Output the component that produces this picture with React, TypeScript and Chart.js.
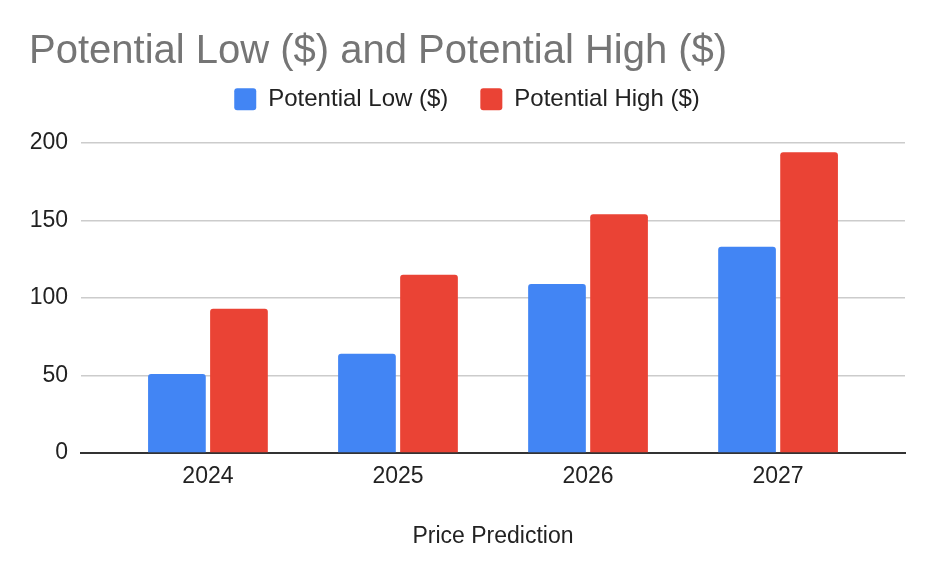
import { useEffect, useRef } from 'react';
import { Chart, registerables } from 'chart.js';

Chart.register(...registerables);

const years = ['2024', '2025', '2026', '2027'];
const potentialLow = [51, 64, 109, 133];
const potentialHigh = [93, 115, 154, 194];
const yTicks = [0, 50, 100, 150, 200];

const FONT = "'Liberation Sans', Arial, sans-serif";

// pushes the plot area down a bit below the legend
const legendGap = {
  id: 'legendGap',
  beforeInit(chart: any) {
    const fit = chart.legend.fit;
    chart.legend.fit = function () {
      fit.bind(chart.legend)();
      this.height += 21.7;
    };
  },
};

export default function App() {
  const canvasRef = useRef<HTMLCanvasElement>(null);
  const chartRef = useRef<Chart | null>(null);

  useEffect(() => {
    if (!canvasRef.current) return;
    if (chartRef.current) chartRef.current.destroy();

    const ctx = canvasRef.current.getContext('2d');
    if (!ctx) return;

    chartRef.current = new Chart(ctx, {
      type: 'bar',
      data: {
        datasets: [
          {
            label: 'Potential Low ($)',
            data: potentialLow.map((y, i) => ({ x: i, y })),
            backgroundColor: '#4285F4',
            borderRadius: 3,
            categoryPercentage: 0.653,
            barPercentage: 0.93,
          },
          {
            label: 'Potential High ($)',
            data: potentialHigh.map((y, i) => ({ x: i, y })),
            backgroundColor: '#EA4335',
            borderRadius: 3,
            categoryPercentage: 0.653,
            barPercentage: 0.93,
          },
        ],
      },
      options: {
        animation: false,
        responsive: true,
        maintainAspectRatio: false,
        layout: { padding: { top: 0, left: 29, right: 29, bottom: 27.4 } },
        plugins: {
          title: {
            display: true,
            text: 'Potential Low ($) and Potential High ($)',
            align: 'start',
            color: '#757575',
            font: { family: FONT, size: 40, weight: 'normal', lineHeight: 1.2 },
            padding: { top: 27.5, bottom: -20.2 },
          },
          legend: {
            display: true,
            position: 'top',
            align: 'center',
            labels: {
              color: '#222222',
              boxWidth: 22,
              boxHeight: 22,
              useBorderRadius: true,
              borderRadius: 3,
              padding: 32,
              font: { family: FONT, size: 24 },
            },
          },
          tooltip: { enabled: false },
        },
        scales: {
          x: {
            type: 'linear',
            bounds: 'data',
            offset: false,
            min: -0.668,
            max: years.length - 1 + 0.668,
            z: 1,
            afterBuildTicks: (scale) => {
              scale.ticks = years.map((_, i) => ({ value: i }));
            },
            grid: { display: false, drawTicks: false },
            border: { display: true, color: '#333333', width: 2 },
            ticks: {
              color: '#222222',
              padding: 9.5,
              font: { family: FONT, size: 23 },
              callback: (val) => years[Number(val)],
            },
            title: {
              display: true,
              text: 'Price Prediction',
              color: '#222222',
              font: { family: FONT, size: 23, lineHeight: 1.2 },
              padding: { top: 23.4, bottom: 0 },
            },
          },
          y: {
            min: yTicks[0],
            max: yTicks[yTicks.length - 1],
            afterBuildTicks: (scale) => {
              scale.ticks = yTicks.map((value) => ({ value }));
            },
            afterFit: (scale) => {
              scale.width = 52;
            },
            grid: {
              color: (c) => (c.tick && c.tick.value === 0 ? 'rgba(0,0,0,0)' : '#cccccc'),
              lineWidth: 1.5,
              drawTicks: false,
            },
            border: { display: false },
            ticks: {
              color: '#222222',
              padding: 13,
              font: { family: FONT, size: 23 },
            },
          },
        },
      },
      plugins: [legendGap],
    });

    return () => {
      if (chartRef.current) {
        chartRef.current.destroy();
        chartRef.current = null;
      }
    };
  }, []);

  return (
    <div style={{ position: 'fixed', left: 0, top: 0, width: 934, height: 578, background: '#ffffff' }}>
      <canvas ref={canvasRef} />
    </div>
  );
}
